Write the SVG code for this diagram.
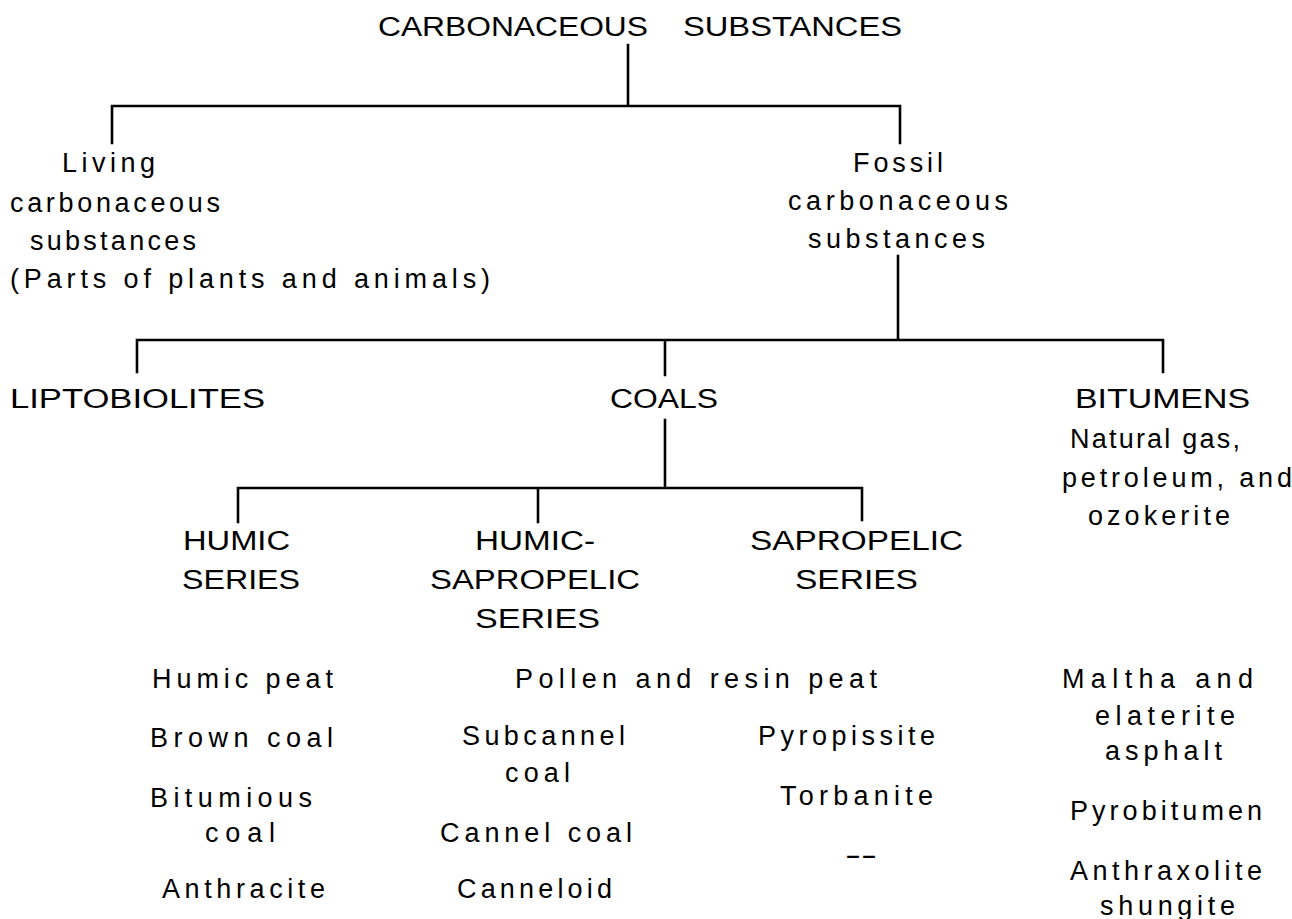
<svg xmlns="http://www.w3.org/2000/svg" width="1292" height="919" viewBox="0 0 1292 919">
<style>
text{font-family:"Liberation Sans",Arial,sans-serif;font-size:27px;fill:#000;}
.c{stroke:#000;stroke-width:2.6;fill:none;stroke-linecap:square;}
</style>
<rect width="1292" height="919" fill="#fff"/>
<g id="connectors">
<path class="c" d="M628 45V106M112 106H900M112 106V143M900 106V143"/>
<path class="c" d="M898 256V340M137 340H1163M137 340V372M665 340V375M1163 340V372"/>
<path class="c" d="M665 420V488M238 488H862M238 488V522M538 488V522M862 488V520"/>
</g>
<g id="root">
<text x="378" y="36" textLength="270" lengthAdjust="spacingAndGlyphs">CARBONACEOUS</text>
<text x="683" y="36" textLength="219" lengthAdjust="spacingAndGlyphs">SUBSTANCES</text>
</g>
<g id="living">
<text x="62" y="172" textLength="93" lengthAdjust="spacing">Living</text>
<text x="10" y="212" textLength="210" lengthAdjust="spacing">carbonaceous</text>
<text x="30" y="250" textLength="166" lengthAdjust="spacing">substances</text>
<text x="10" y="288" textLength="480" lengthAdjust="spacing">(Parts of plants and animals)</text>
</g>
<g id="fossil">
<text x="853" y="172" textLength="90" lengthAdjust="spacing">Fossil</text>
<text x="788" y="210" textLength="220" lengthAdjust="spacing">carbonaceous</text>
<text x="808" y="248" textLength="177" lengthAdjust="spacing">substances</text>
</g>
<g id="liptobiolites">
<text x="10" y="408" textLength="255" lengthAdjust="spacingAndGlyphs">LIPTOBIOLITES</text>
</g>
<g id="coals">
<text x="610" y="408" textLength="108" lengthAdjust="spacingAndGlyphs">COALS</text>
</g>
<g id="bitumens">
<text x="1075" y="408" textLength="175" lengthAdjust="spacingAndGlyphs">BITUMENS</text>
<text x="1070" y="448" textLength="170" lengthAdjust="spacing">Natural gas,</text>
<text x="1062" y="487" textLength="230" lengthAdjust="spacing">petroleum, and</text>
<text x="1088" y="525" textLength="142" lengthAdjust="spacing">ozokerite</text>
</g>
<g id="humic">
<text x="183" y="550" textLength="107" lengthAdjust="spacingAndGlyphs">HUMIC</text>
<text x="182" y="589" textLength="118" lengthAdjust="spacingAndGlyphs">SERIES</text>
</g>
<g id="humic-sapropelic">
<text x="475" y="550" textLength="120" lengthAdjust="spacingAndGlyphs">HUMIC-</text>
<text x="430" y="589" textLength="210" lengthAdjust="spacingAndGlyphs">SAPROPELIC</text>
<text x="475" y="628" textLength="125" lengthAdjust="spacingAndGlyphs">SERIES</text>
</g>
<g id="sapropelic">
<text x="750" y="550" textLength="213" lengthAdjust="spacingAndGlyphs">SAPROPELIC</text>
<text x="795" y="589" textLength="123" lengthAdjust="spacingAndGlyphs">SERIES</text>
</g>
<g id="humic-list">
<text x="152" y="688" textLength="181" lengthAdjust="spacing">Humic peat</text>
<text x="150" y="747" textLength="183" lengthAdjust="spacing">Brown coal</text>
<text x="150" y="807" textLength="162" lengthAdjust="spacing">Bitumious</text>
<text x="205" y="842" textLength="70" lengthAdjust="spacing">coal</text>
<text x="162" y="898" textLength="163" lengthAdjust="spacing">Anthracite</text>
</g>
<g id="mixed-list">
<text x="515" y="688" textLength="362" lengthAdjust="spacing">Pollen and resin peat</text>
<text x="462" y="745" textLength="163" lengthAdjust="spacing">Subcannel</text>
<text x="505" y="782" textLength="65" lengthAdjust="spacing">coal</text>
<text x="440" y="842" textLength="192" lengthAdjust="spacing">Cannel coal</text>
<text x="457" y="898" textLength="155" lengthAdjust="spacing">Canneloid</text>
</g>
<g id="sapropelic-list">
<text x="758" y="745" textLength="177" lengthAdjust="spacing">Pyropissite</text>
<text x="780" y="805" textLength="153" lengthAdjust="spacing">Torbanite</text>
<text x="845" y="864" textLength="32" lengthAdjust="spacingAndGlyphs">--</text>
</g>
<g id="bitumen-list">
<text x="1062" y="688" textLength="191" lengthAdjust="spacing">Maltha and</text>
<text x="1095" y="725" textLength="140" lengthAdjust="spacing">elaterite</text>
<text x="1105" y="760" textLength="117" lengthAdjust="spacing">asphalt</text>
<text x="1070" y="820" textLength="192" lengthAdjust="spacing">Pyrobitumen</text>
<text x="1070" y="880" textLength="192" lengthAdjust="spacing">Anthraxolite</text>
<text x="1100" y="915" textLength="135" lengthAdjust="spacing">shungite</text>
</g>
</svg>
